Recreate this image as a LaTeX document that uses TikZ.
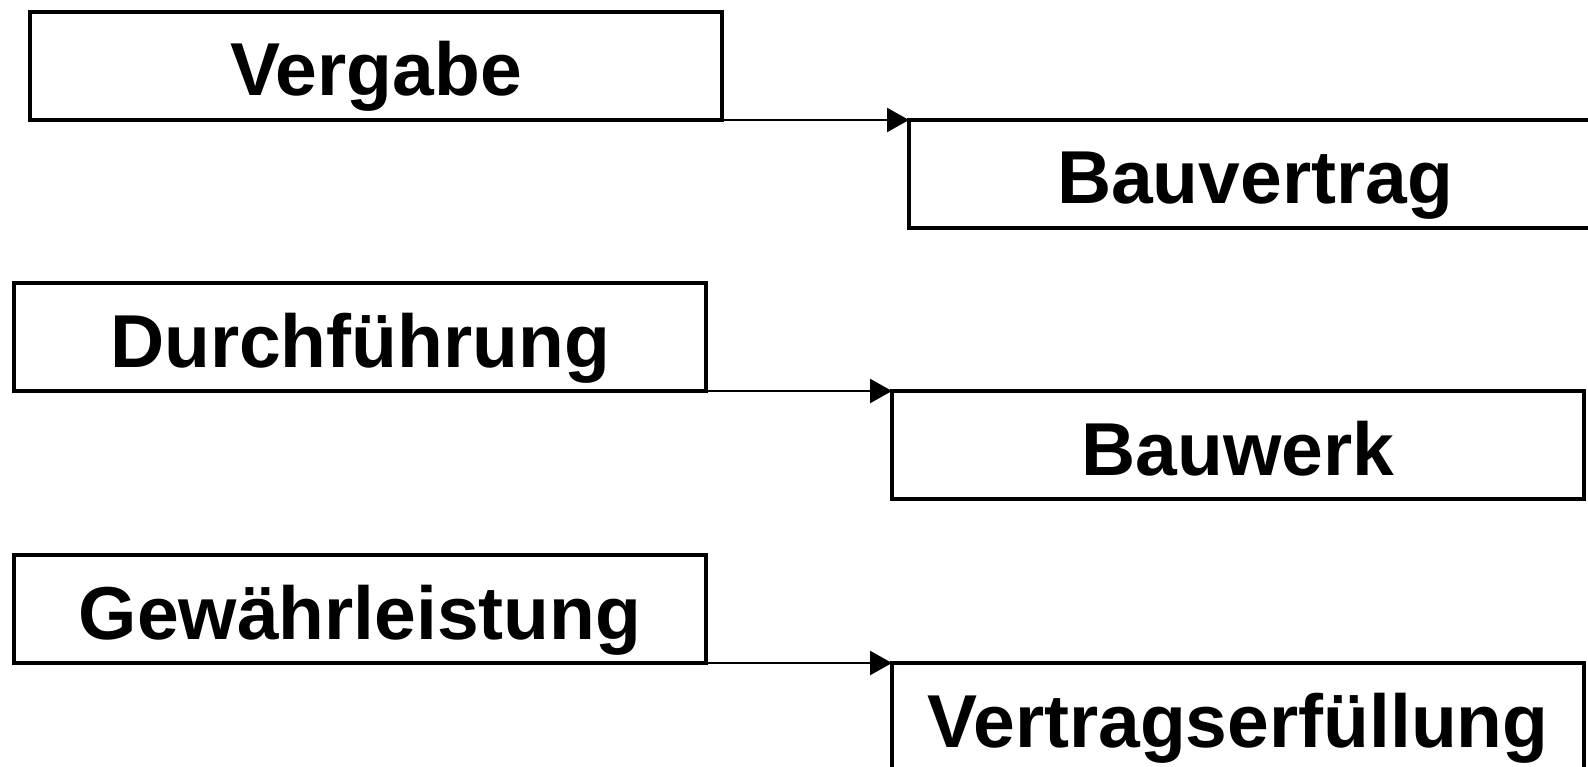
\documentclass[tikz,border=0pt]{standalone}
\usepackage{fontspec}
\setmainfont{Liberation Sans}
\usetikzlibrary{arrows.meta}
\tikzset{
	phase/.style={draw=black, line width=4.5pt, fill=white, minimum width=692pt, minimum height=108pt, inner sep=0pt, outer sep=0pt, text height=60pt, text depth=0pt, font=\fontsize{75}{84}\selectfont\bfseries},
	link/.style={line width=2.5pt, -{Triangle[length=22pt, width=24pt]}}
}

\begin{document}
\begin{tikzpicture}[x=1pt, y=-1pt]
			%%%%% START %%%%%
			
			\useasboundingbox (0, 0) rectangle (1588, 767);
			\clip (0, 0) rectangle (1588, 767);
			
			\node[phase] (vergabe) at (376, 66) {Vergabe};
			\node[phase] (bauvertrag) at (1255, 174) {Bauvertrag};
			
			\node[phase] (durchfuehrung) at (360, 337) {Durchführung};
			\node[phase] (bauwerk) at (1238, 445) {Bauwerk};
			
			\node[phase] (gewaehr) at (360, 609) {Gewährleistung};
			\node[phase] (erfuellung) at (1238, 717) {Vertragserfüllung};
			
			\draw[link] (vergabe.south east) -- (bauvertrag.north west);
			\draw[link] (durchfuehrung.south east) -- (bauwerk.north west);
			\draw[link] (gewaehr.south east) -- (erfuellung.north west);
			
			%%%%% END %%%%%
		\end{tikzpicture}
\end{document}
